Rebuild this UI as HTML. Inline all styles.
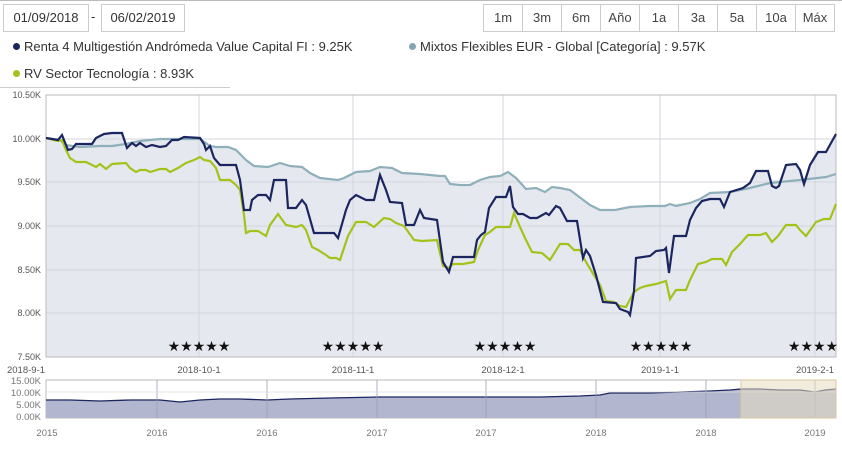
<!DOCTYPE html>
<html><head><meta charset="utf-8"><style>
body{margin:0;width:842px;height:449px;background:#fff;font-family:"Liberation Sans",sans-serif;overflow:hidden;position:relative}
.box{position:absolute;border:1px solid #ccc;background:#fff;font-size:13px;color:#333;line-height:26px;height:26px;text-align:center}
.btns{position:absolute;left:483px;top:4px;height:26px;border:1px solid #ccc;display:flex}
.btns div{border-left:1px solid #ccc;font-size:13px;color:#444;line-height:26px;text-align:center}
.btns div:first-child{border-left:none}
.leg{position:absolute;font-size:13px;color:#333;white-space:nowrap}
.dot{display:inline-block;width:7px;height:7px;border-radius:50%;margin-right:4px;vertical-align:1px}
</style></head><body>
<div style="position:absolute;left:0;top:0;width:842px;height:1px;background:#bbb"></div>
<div class="box" style="left:3px;top:4px;width:84px">01/09/2018</div>
<div style="position:absolute;left:91px;top:9px;font-size:13px;color:#333">-</div>
<div class="box" style="left:101px;top:4px;width:82px">06/02/2019</div>
<div class="btns">
<div style="width:38px">1m</div><div style="width:38px">3m</div><div style="width:38px">6m</div><div style="width:38px">Año</div><div style="width:38px">1a</div><div style="width:38px">3a</div><div style="width:38px">5a</div><div style="width:38px">10a</div><div style="width:38px">Máx</div>
</div>
<div class="leg" style="left:13px;top:39px"><span class="dot" style="background:#1b2660"></span>Renta 4 Multigestión Andrómeda Value Capital FI : 9.25K</div>
<div class="leg" style="left:409px;top:39px"><span class="dot" style="background:#82a6b2"></span>Mixtos Flexibles EUR - Global [Categoría] : 9.57K</div>
<div class="leg" style="left:13px;top:66px"><span class="dot" style="background:#a5c21b"></span>RV Sector Tecnología : 8.93K</div>
<div style="position:absolute;left:0;top:87px;width:230px;height:1px;background:#ccc"></div>
<svg width="842" height="449" style="position:absolute;left:0;top:0" font-family="Liberation Sans,sans-serif">
<g font-size="9" fill="#555" text-anchor="end">
<text x="41" y="98">10.50K</text><text x="41" y="142">10.00K</text><text x="41" y="185">9.50K</text><text x="41" y="229">9.00K</text><text x="41" y="273">8.50K</text><text x="41" y="316">8.00K</text><text x="41" y="360">7.50K</text>
</g>
<polygon fill="#e6e8ef" points="46,357 46,138 60,140 66,145 72,146 76,144 92,144 96,138 104,134 122,133 127,144 140,141 160,139 178,139 184,137 200,138 210,146 228,147 236,150 246,160 254,166 268,167 280,163 290,166 302,167 310,173 320,178 338,180 344,178 356,172 370,171 380,167 392,168 402,173 420,174 440,176 445,176 450,184 470,185 480,180 490,177 500,176 508,172 516,178 526,189 536,188 545,192 552,187 560,188 570,190 578,196 590,205 600,210 615,210 630,207 650,206 670,204 690,203 700,199 710,193 730,191 743,188 750,183 756,171 768,171 772,180 779,180 786,165 796,164 800,170 804,179 810,165 818,152 826,152 836,134 836,357"/>
<g stroke="#d4d6dd" stroke-width="1" fill="none">
<line x1="46" y1="139" x2="836" y2="139"/><line x1="46" y1="182" x2="836" y2="182"/><line x1="46" y1="226" x2="836" y2="226"/><line x1="46" y1="270" x2="836" y2="270"/><line x1="46" y1="313" x2="836" y2="313"/>
<line x1="199" y1="95" x2="199" y2="357"/><line x1="353" y1="95" x2="353" y2="357"/><line x1="503" y1="95" x2="503" y2="357"/><line x1="660" y1="95" x2="660" y2="357"/><line x1="815" y1="95" x2="815" y2="357"/>
</g>
<rect x="46" y="95" width="790" height="262" fill="none" stroke="#bbb"/>
<polyline fill="none" stroke="#8fb0ba" stroke-width="2.2" points="46,138 60,140 66,145 72,146 80,147 100,146 112,146 126,144 140,141 160,139 178,139 194,139 200,139 210,146 216,147 228,147 236,150 246,160 254,166 268,167 280,163 290,166 302,167 310,173 320,178 338,180 344,178 356,172 370,171 380,167 392,168 402,173 420,174 440,176 445,176 450,184 460,185 470,185 480,180 490,177 500,176 508,172 516,178 526,189 536,188 545,192 552,187 560,188 570,190 578,196 590,205 600,210 615,210 630,207 650,206 665,206 670,204 676,206 690,203 700,199 710,193 730,192 740,190 750,188 770,183 800,180 826,177 836,174"/>
<polyline fill="none" stroke="#a5c21b" stroke-width="2.2" points="46,138 58,141 62,140 66,150 70,158 76,162 86,162 92,165 96,167 100,164 106,169 112,164 126,163 130,168 136,172 140,170 146,170 150,172 160,169 166,169 170,172 178,168 186,163 194,160 200,157 204,160 210,161 216,168 220,180 230,180 236,185 240,190 244,215 246,233 250,231 258,231 266,236 270,225 278,214 286,225 296,227 302,225 306,230 312,247 318,250 326,255 330,258 336,258 340,260 348,236 356,222 366,222 374,227 384,218 390,219 396,223 404,226 414,240 422,241 437,240 443,266 449,268 453,264 463,264 474,262 478,250 485,235 490,232 496,227 510,227 514,213 520,227 526,240 532,252 542,253 550,260 560,244 568,244 574,250 580,250 586,262 600,285 606,301 614,302 620,306 626,307 634,292 640,288 646,286 656,284 666,281 670,299 676,290 686,290 690,280 698,264 706,262 712,259 722,259 726,265 732,252 740,244 748,235 760,235 766,233 772,242 778,236 786,225 796,225 800,230 806,236 816,222 824,219 830,219 836,204"/>
<polyline fill="none" stroke="#1b2660" stroke-width="2.2" points="46,138 58,140 62,135 68,150 72,149 76,144 92,144 96,138 104,134 112,133 122,133 127,148 132,143 136,146 140,143 146,147 152,145 160,147 166,146 172,140 178,140 184,137 200,138 204,144 206,150 210,146 214,158 220,165 236,165 240,180 244,210 250,210 252,200 258,195 266,195 270,200 274,180 286,180 288,208 296,208 302,200 306,205 314,233 334,233 338,238 346,210 350,200 356,195 366,200 374,200 380,175 386,190 390,202 402,203 406,225 414,225 420,210 424,218 437,220 443,262 449,272 453,257 474,257 477,240 481,235 485,232 489,208 496,197 506,197 510,186 513,207 518,214 523,214 530,218 537,218 546,213 549,215 556,206 560,208 567,221 577,221 583,258 586,250 590,256 596,275 603,302 616,303 620,309 628,312 630,315 634,291 636,258 650,256 656,251 664,250 666,248 669,273 674,236 686,236 690,220 696,208 702,201 710,199 720,199 724,207 730,192 743,188 750,183 756,171 768,171 772,186 776,188 779,186 786,165 796,164 800,170 804,184 810,165 818,152 826,152 836,134"/>
<g font-size="14" fill="#111" text-anchor="middle">
<text x="199" y="351">★★★★★</text><text x="353" y="351">★★★★★</text><text x="505" y="351">★★★★★</text><text x="661" y="351">★★★★★</text><text x="813" y="351">★★★★</text>
</g>
<g font-size="9.5" fill="#555" text-anchor="middle">
<text x="26" y="373">2018-9-1</text><text x="199" y="373">2018-10-1</text><text x="353" y="373">2018-11-1</text><text x="503" y="373">2018-12-1</text><text x="660" y="373">2019-1-1</text><text x="815" y="373">2019-2-1</text>
</g>
<g font-size="9.5" fill="#777" text-anchor="end">
<text x="41" y="384">15.00K</text><text x="41" y="396">10.00K</text><text x="41" y="408">5.00K</text><text x="41" y="420">0.00K</text>
</g>
<rect x="46" y="380" width="790" height="38" fill="#fff" stroke="#bbb"/>
<polygon fill="#b2b6cf" points="46,418 46,400 70,400 100,401 130,400 160,400 180,402 200,400 220,399 240,399 267,400 290,399 330,398 380,397 420,397 460,397 500,397 540,397 580,396 600,395 610,393 650,393 680,392 710,391 730,390 741,389 760,389 780,390 800,390 815,392 825,390 836,389 836,418"/>
<polyline fill="none" stroke="#1b2660" stroke-width="1.3" points="46,400 70,400 100,401 130,400 160,400 180,402 200,400 220,399 240,399 267,400 290,399 330,398 380,397 420,397 460,397 500,397 540,397 580,396 600,395 610,393 650,393 680,392 710,391 730,390 741,389 760,389 780,390 800,390 815,392 825,390 836,389"/>
<g stroke="#9aa0b8" stroke-width="0.8"><line x1="157" y1="380" x2="157" y2="418"/><line x1="267" y1="380" x2="267" y2="418"/><line x1="377" y1="380" x2="377" y2="418"/><line x1="486" y1="380" x2="486" y2="418"/><line x1="596" y1="380" x2="596" y2="418"/><line x1="706" y1="380" x2="706" y2="418"/><line x1="815" y1="380" x2="815" y2="418"/><line x1="46" y1="392" x2="836" y2="392" stroke="#ddd"/></g>
<rect x="741" y="380" width="95" height="38" fill="#e8dcbf" fill-opacity="0.55" stroke="#d8c9a0"/>
<g font-size="9.5" fill="#777" text-anchor="middle">
<text x="47" y="436">2015</text><text x="157" y="436">2016</text><text x="267" y="436">2016</text><text x="377" y="436">2017</text><text x="486" y="436">2017</text><text x="596" y="436">2018</text><text x="706" y="436">2018</text><text x="815" y="436">2019</text>
</g>
</svg>
</body></html>
